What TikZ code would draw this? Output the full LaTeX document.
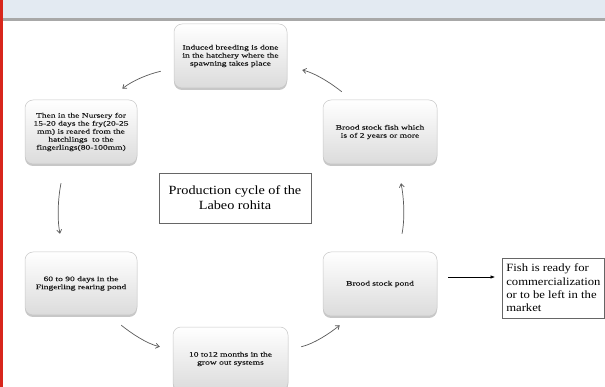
\documentclass[tikz,border=0pt]{standalone}
\usepackage{fontspec}
\setmainfont{Liberation Serif}
\newfontfamily\smallfnt[FakeStretch=1.4,FakeBold=0.4]{Liberation Serif}
\newfontfamily\largefnt[FakeStretch=1.14]{Liberation Serif}
\usetikzlibrary{arrows.meta,shadows}
\definecolor{hdr}{HTML}{E3EAF2}
\definecolor{hdrline}{HTML}{A8A8A8}
\definecolor{redbar}{HTML}{D8261C}
\definecolor{arr}{HTML}{5A5A5A}
\definecolor{boxline}{HTML}{C8C8C8}
\begin{document}
\begin{tikzpicture}[x=1pt,y=-1pt,
  cyclebox/.style={draw=boxline, line width=0.5pt, rounded corners=8pt,
    top color=white, bottom color=black!14, inner sep=2pt, align=center,
    minimum width=113pt, minimum height=64pt, text=black!90,
    font=\smallfnt\fontsize{6.8}{8}\selectfont,
    drop shadow={shadow xshift=0pt, shadow yshift=-2pt, fill=black!40, opacity=0.55}},
  plainbox/.style={draw=black!60, line width=0.6pt, fill=white, text=black,
    font=\largefnt\fontsize{12.5}{15}\selectfont},
  cyclearrow/.style={draw=arr, line width=0.7pt, -{Straight Barb[length=3.5pt,width=5pt]}},
  outarrow/.style={draw=black, line width=0.6pt, -{Latex[length=4.5pt,width=3.5pt]}}]
\useasboundingbox (0,0) rectangle (605,387);
\clip (0,0) rectangle (605,387);
\fill[white] (0,0) rectangle (605,387);
% header band
\fill[hdr] (0,0) rectangle (605,18.5);
\fill[hdrline] (0,18.5) rectangle (605,21);
\fill[redbar] (0,0) rectangle (3,387);

% cycle boxes
\node[cyclebox] (top) at (230.5,56) {Induced breeding is done\\in the hatchery where the\\spawning takes place};
\node[cyclebox, minimum width=112pt] (left) at (81,132) {Then in the Nursery for\\15-20 days the fry(20-25\\mm) is reared from the\\hatchlings\ \ to the\\fingerlings(80-100mm)};
\node[cyclebox, minimum width=114pt] (rtop) at (380,132) {Brood stock fish which\\is of 2 years or more};
\node[cyclebox, minimum width=112pt, minimum height=63pt] (bleft) at (81,283.5) {60 to 90 days in the\\Fingerling rearing pond};
\node[cyclebox, minimum width=115pt] (bottom) at (230.5,359) {10 to12 months in the\\grow out systems};
\node[cyclebox, minimum width=114pt] (bright) at (380,284) {Brood stock pond};

% title and output boxes
\node[plainbox, minimum width=152pt, minimum height=50pt, align=center] (title) at (235,198) {Production cycle of the\\Labeo rohita};
\node[plainbox, anchor=west, align=left, inner xsep=4pt, minimum height=60pt,
  font=\largefnt\fontsize{11.1}{13.4}\selectfont] (fish) at (502,288) {Fish is ready for\\commercialization\\or to be left in the\\market};

% cycle arrows
\draw[cyclearrow] ([shift={(-13,-17)}]top.south west) .. controls +(-13,3) and +(10,-8) .. ([shift={(-15,-11)}]left.north east);
\draw[cyclearrow] ([shift={(-20,19)}]left.south) .. controls +(-3,15) and +(-3,-15) .. ([shift={(-21,-18)}]bleft.north);
\draw[cyclearrow] ([shift={(-16,10)}]bleft.south east) .. controls +(10,8) and +(-13,-3) .. ([shift={(-13,20)}]bottom.north west);
\draw[cyclearrow] ([shift={(13,20)}]bottom.north east) .. controls +(13,-3) and +(-10,8) .. ([shift={(17,9)}]bright.south west);
\draw[cyclearrow] ([shift={(22,-18)}]bright.north) .. controls +(3,-15) and +(3,15) .. ([shift={(21,19)}]rtop.south);
\draw[cyclearrow] ([shift={(19,-8)}]rtop.north west) .. controls +(-10,-8) and +(13,3) .. ([shift={(15,14)}]top.east);
\draw[outarrow] ([shift={(11,-7)}]bright.east) -- ([shift={(-7,-11)}]fish.west);
\end{tikzpicture}
\end{document}
